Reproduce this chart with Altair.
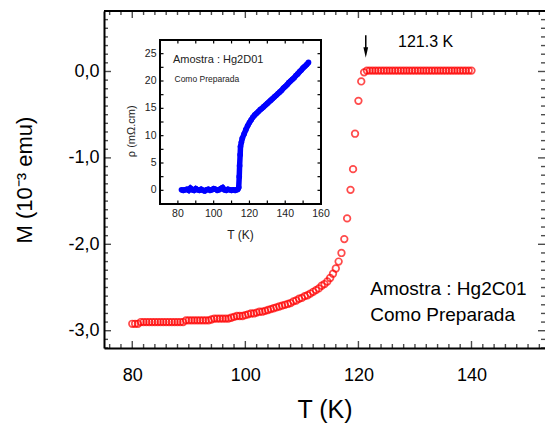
import altair as alt
import pandas as pd

FONT = "Liberation Sans"

# ---------------- main curve: magnetisation ----------------
T_main = [80, 80.5, 81, 81.5, 82, 82.5, 83, 83.5, 84, 84.5, 85, 85.5, 86, 86.5, 87, 87.5,
          88, 88.5, 89, 89.5, 90, 90.5, 91, 91.5, 92, 92.5, 93, 93.5, 94, 94.5, 95, 95.5,
          96, 96.5, 97, 97.5, 98, 98.5, 99, 99.5, 100, 100.5, 101, 101.5, 102, 102.5, 103,
          103.5, 104, 104.5, 105, 105.5, 106, 106.5, 107, 107.5, 108, 108.5, 109, 109.5, 110,
          110.5, 111, 111.5, 112, 112.5, 113,
          113.5, 114, 114.5, 115, 115.5, 116, 116.5, 117, 117.5, 118, 118.6, 119.05, 119.4,
          120.0, 120.5, 121.0,
          121.5, 122, 122.5, 123, 123.5, 124, 124.5, 125, 125.5, 126, 126.5, 127, 127.5, 128,
          128.5, 129, 129.5, 130, 130.5, 131, 131.5, 132, 132.5, 133, 133.5, 134, 134.5, 135,
          135.5, 136, 136.5, 137, 137.5, 138, 138.5, 139, 139.5, 140]
M_main = [-2.92, -2.92, -2.92, -2.90, -2.90, -2.90, -2.90, -2.90, -2.90, -2.90, -2.90, -2.90,
          -2.90, -2.90, -2.90, -2.90, -2.90, -2.90, -2.90, -2.88, -2.88, -2.88, -2.88, -2.88,
          -2.88, -2.88, -2.88, -2.88, -2.87, -2.86, -2.86, -2.86, -2.86, -2.86, -2.86, -2.85,
          -2.84, -2.83, -2.83, -2.83, -2.82, -2.81, -2.80, -2.80, -2.79, -2.78, -2.78, -2.77,
          -2.76, -2.75, -2.74, -2.73, -2.72, -2.71, -2.70, -2.69, -2.68, -2.66, -2.65, -2.63,
          -2.62, -2.60, -2.59, -2.57, -2.55, -2.53, -2.51,
          -2.48, -2.46, -2.43, -2.39, -2.34, -2.28, -2.20, -2.10, -1.94, -1.70, -1.37, -1.13,
          -0.72, -0.34, -0.115, -0.01,
          0.01, 0.01, 0.01, 0.01, 0.01, 0.01, 0.01, 0.01, 0.01, 0.01, 0.01, 0.01, 0.01, 0.01,
          0.01, 0.01, 0.01, 0.01, 0.01, 0.01, 0.01, 0.01, 0.01, 0.01, 0.01, 0.01, 0.01, 0.01,
          0.01, 0.01, 0.01, 0.01, 0.01, 0.01, 0.01, 0.01, 0.01, 0.01]

# ---------------- inset curve: resistivity ----------------
T_inset = [82, 83, 84, 85, 86, 87, 88, 89, 90, 91, 92, 93, 94, 95, 96, 97, 98, 99, 100, 101,
           102, 103, 104, 105, 106, 107, 108, 109, 110, 111, 112, 113, 113.5, 114, 114.3,
           114.5, 114.8, 115, 115.5, 116, 117, 118, 119, 120, 121, 122, 123, 124, 125, 126,
           127, 128, 129, 130, 131, 132, 133, 134, 135, 136, 137, 138, 139, 140, 141, 142,
           143, 144, 145, 146, 147, 148, 149, 150, 151, 152, 153]
R_inset = [0.1, 0.0, 0.1, 0.2, 0.0, 0.4, 0.1, 0.0, 0.3, 0.1, 0.0, 0.2, 0.0, -0.1, 0.1, 0.2,
           0.0, 0.1, 0.3, 0.2, 0.0, 0.1, 0.3, 0.5, 0.1, 0.0, 0.2, 0.1, 0.0, 0.1, 0.0, 0.1,
           0.2, 0.5, 2.5, 4.5, 6.5, 8.0, 8.8, 9.5, 10.3, 11.1, 11.8, 12.4, 12.9, 13.4, 13.8,
           14.1, 14.4, 14.75, 15.0, 15.3, 15.6, 15.9, 16.2, 16.5, 16.8, 17.1, 17.4, 17.7,
           18.0, 18.3, 18.7, 19.0, 19.3, 19.7, 20.0, 20.3, 20.6, 21.0, 21.3, 21.7, 22.0,
           22.4, 22.7, 23.0, 23.4]

# ---------------- axes ----------------
x_labels = [80, 100, 120, 140]
y_labels = [-3, -2, -1, 0]
x_minor = [76, 78, 80, 82, 84, 86, 88, 90, 92, 94, 96, 98, 100, 102, 104, 106, 108, 110, 112,
           114, 116, 118, 120, 122, 124, 126, 128, 130, 132, 134, 136, 138, 140, 142, 144,
           146, 148, 150, 152]
y_minor = [round(-3.2 + 0.1 * i, 1) for i in range(40)]

xi_labels = [80, 100, 120, 140, 160]
yi_labels = [0, 5, 10, 15, 20, 25]
xi_ticks = [80, 90, 100, 110, 120, 130, 140, 150]
yi_ticks = [0, 2.5, 5, 7.5, 10, 12.5, 15, 17.5, 20, 22.5, 25]

W, H = 441, 337

xs = alt.Scale(domain=[75, 153.0], nice=False, zero=False)
ys = alt.Scale(domain=[-3.2, 0.7], nice=False, zero=False)
xaxis = alt.Axis(values=x_labels, ticks=False, domain=True, domainWidth=2, domainColor="black",
                 labelFontSize=18, labelPadding=18, labelColor="black", labelFont=FONT,
                 title="T (K)", titleFontSize=25, titleFont=FONT, titleFontWeight="normal",
                 titlePadding=13, grid=False)
yaxis = alt.Axis(values=y_labels, ticks=False, domain=True, domainWidth=2, domainColor="black",
                 labelExpr="datum.value + ',0'", labelFontSize=18, labelPadding=5,
                 labelColor="black", labelFont=FONT,
                 title="M (10⁻³ emu)", titleFontSize=22, titleFont=FONT,
                 titleFontWeight="normal", titlePadding=31, grid=False)
xenc = alt.X("T:Q", scale=xs, axis=xaxis)
yenc = alt.Y("M:Q", scale=ys, axis=yaxis)

main_df = pd.DataFrame({"T": T_main, "M": M_main})
points = alt.Chart(main_df).mark_point(shape="circle", filled=False, color="#ff0000",
                                       strokeWidth=1.7, size=44).encode(x=xenc, y=yenc)

xt = pd.DataFrame({"T": x_minor, "len": [14 if v in x_labels else 8 for v in x_minor]})
yt = pd.DataFrame({"M": y_minor, "len": [14 if v in y_labels else 8 for v in y_minor]})
tick_top = alt.Chart(xt).mark_tick(orient="vertical", clip=True, thickness=1.4, color="black").encode(
    x=xenc, y=alt.value(0), size=alt.Size("len:Q", scale=None))
tick_bot = alt.Chart(xt).mark_tick(orient="vertical", clip=True, thickness=1.4, color="black").encode(
    x=xenc, y=alt.value(H), size=alt.Size("len:Q", scale=None))
tick_left = alt.Chart(yt).mark_tick(orient="horizontal", clip=True, thickness=1.4, color="black").encode(
    y=yenc, x=alt.value(0), size=alt.Size("len:Q", scale=None))
tick_right = alt.Chart(yt).mark_tick(orient="horizontal", clip=True, thickness=1.4, color="black").encode(
    y=yenc, x=alt.value(W), size=alt.Size("len:Q", scale=None))
top_line = alt.Chart(main_df).mark_rule(color="black", strokeWidth=2).encode(
    x=alt.value(0), x2=alt.value(W), y=alt.value(0))

notes = pd.DataFrame({"T": [127.0, 122.1, 122.1],
                      "M": [0.34, -2.515, -2.815],
                      "txt": ["121.3 K", "Amostra : Hg2C01", "Como Preparada"],
                      "fs": [16, 19, 19]})
note_text = alt.Chart(notes).mark_text(align="left", baseline="middle", font=FONT,
                                       color="black").encode(
    x=xenc, y=yenc, text="txt:N", size=alt.Size("fs:Q", scale=None))

arrow = pd.DataFrame({"T": [121.3], "M": [0.42], "M2": [0.22]})
arrow_line = alt.Chart(arrow).mark_rule(color="black", strokeWidth=1.5).encode(
    x=xenc, y=yenc, y2="M2:Q")
arrow_head = alt.Chart(arrow).mark_point(shape="M -0.45 -1 L 0.45 -1 L 0 1 Z", filled=True,
                                         color="black", size=110, opacity=1).encode(
    x=xenc, y=alt.Y("M2:Q", scale=ys, axis=yaxis))

main = alt.layer(points, tick_top, tick_bot, tick_left, tick_right, top_line,
                 note_text, arrow_line, arrow_head)

# ---------------- inset ----------------
xi = alt.Scale(domain=[70, 160], range=[56, 217], nice=False, zero=False)
yi = alt.Scale(domain=[-2.5, 27.5], range=[193, 29], nice=False, zero=False)
xie = alt.X("Ti:Q", scale=xi, axis=None)
yie = alt.Y("R:Q", scale=yi, axis=None)

frame = alt.Chart(pd.DataFrame({"Ti": [70], "Ti2": [160], "R": [-2.5], "R2": [27.5]})).mark_rect(
    fill="white", stroke="black", strokeWidth=2).encode(x=xie, x2="Ti2:Q", y=yie, y2="R2:Q")

inset_df = pd.DataFrame({"Ti": T_inset, "R": R_inset})
inset_line = alt.Chart(inset_df).mark_line(color="#0000ff", strokeWidth=5.5).encode(x=xie, y=yie)
inset_pts = alt.Chart(inset_df).mark_point(shape="circle", filled=True, color="#0000ff",
                                           size=32, opacity=1).encode(x=xie, y=yie)

xti = pd.DataFrame({"Ti": xi_ticks})
yti = pd.DataFrame({"R": yi_ticks})
it_b = alt.Chart(xti).mark_rule(color="black", strokeWidth=1.2).encode(
    x=xie, y=alt.value(193), y2=alt.value(189.5))
it_t = alt.Chart(xti).mark_rule(color="black", strokeWidth=1.2).encode(
    x=xie, y=alt.value(29), y2=alt.value(32.5))
it_l = alt.Chart(yti).mark_rule(color="black", strokeWidth=1.2).encode(
    y=yie, x=alt.value(56), x2=alt.value(59.5))
it_r = alt.Chart(yti).mark_rule(color="black", strokeWidth=1.2).encode(
    y=yie, x=alt.value(217), x2=alt.value(213.5))

xil = alt.Chart(pd.DataFrame({"Ti": xi_labels})).mark_text(
    font=FONT, fontSize=10.5, baseline="middle", align="center", color="#222").encode(
    x=xie, y=alt.value(202.5), text="Ti:Q")
yil = alt.Chart(pd.DataFrame({"R": yi_labels})).mark_text(
    font=FONT, fontSize=10.5, baseline="middle", align="right", color="#222").encode(
    y=yie, x=alt.value(52.5), text="R:Q")

inset_notes = pd.DataFrame({"Ti": [77.2, 78.1], "R": [23.85, 20.3],
                            "txt": ["Amostra : Hg2D01", "Como Preparada"], "fs": [11, 8.5]})
inset_note_text = alt.Chart(inset_notes).mark_text(align="left", baseline="middle", font=FONT,
                                                   color="#222").encode(
    x=xie, y=yie, text="txt:N", size=alt.Size("fs:Q", scale=None))
inset_xtitle = alt.Chart(pd.DataFrame({"Ti": [115], "t": ["T (K)"]})).mark_text(
    font=FONT, fontSize=12, baseline="middle", align="center", color="#222").encode(
    x=xie, y=alt.value(224), text="t:N")
inset_ytitle = alt.Chart(pd.DataFrame({"R": [10.8], "t": ["ρ (mΩ.cm)"]})).mark_text(
    font=FONT, fontSize=11, baseline="middle", align="center", angle=270, color="#222").encode(
    y=yie, x=alt.value(27.7), text="t:N")

inset = alt.layer(frame, inset_line, inset_pts, it_b, it_t, it_l, it_r, xil, yil,
                  inset_note_text, inset_xtitle, inset_ytitle)

chart = alt.layer(main, inset).resolve_scale(x="independent", y="independent").properties(
    width=W, height=H,
    padding={"left": 96, "top": 3, "right": 0, "bottom": 76},
    autosize=alt.AutoSizeParams(type="none"),
).configure_view(strokeWidth=0).configure(background="white")

chart.save("out.html", embed_options={"renderer": "svg", "actions": False})
